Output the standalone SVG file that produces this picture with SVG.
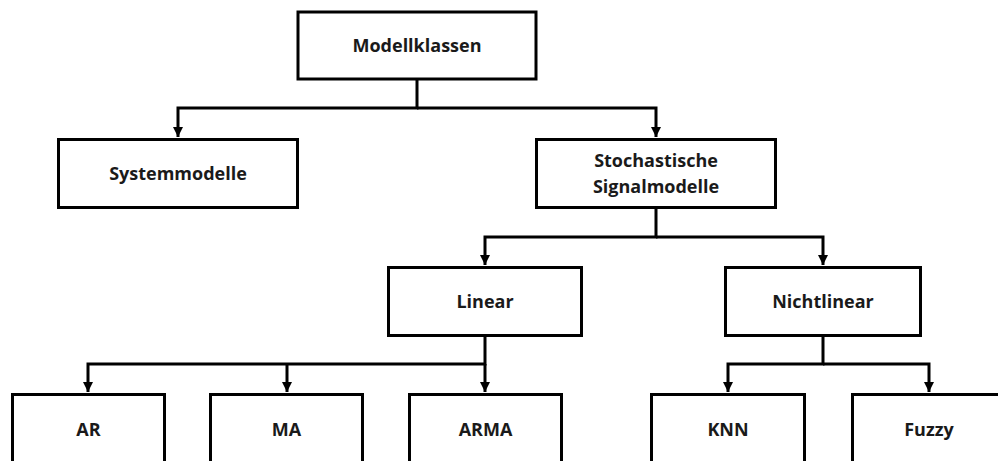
<svg xmlns="http://www.w3.org/2000/svg" width="998" height="461" viewBox="0 0 998 461">
<style>
.box{fill:#fff;stroke:#000;stroke-width:3}
.lbl{font-family:"Open Sans","Noto Sans",sans-serif;font-weight:bold;font-size:18px;fill:#1a1a1a;text-anchor:middle}
.con{fill:none;stroke:#000;stroke-width:3;stroke-linejoin:miter}
</style>
<defs>
<marker id="ah" markerUnits="userSpaceOnUse" markerWidth="10" markerHeight="10" refX="10" refY="5" orient="auto">
<path d="M0,0 L10,5 L0,10 z" fill="#000"/>
</marker>
</defs>
<rect width="998" height="461" fill="#fff"/>
<g id="connectors">
<path class="con" d="M417,80 V108 H178 V137" marker-end="url(#ah)"/>
<path class="con" d="M417,108 H656 V137" marker-end="url(#ah)"/>
<path class="con" d="M656,208 V237 H485 V265" marker-end="url(#ah)"/>
<path class="con" d="M656,237 H823 V265" marker-end="url(#ah)"/>
<path class="con" d="M485,336 V364 H88 V392" marker-end="url(#ah)"/>
<path class="con" d="M287,364 V392" marker-end="url(#ah)"/>
<path class="con" d="M485,364 V392" marker-end="url(#ah)"/>
<path class="con" d="M823,336 V364 H728 V392" marker-end="url(#ah)"/>
<path class="con" d="M823,364 H929 V392" marker-end="url(#ah)"/>
</g>
<g id="modellklassen"><rect class="box" x="298" y="12" width="238" height="67"/><text class="lbl" x="417" y="52">Modellklassen</text></g>
<g id="systemmodelle"><rect class="box" x="58.5" y="139.5" width="239" height="68"/><text class="lbl" x="178" y="180">Systemmodelle</text></g>
<g id="stochastische"><rect class="box" x="536.5" y="139.5" width="239" height="68"/><text class="lbl" x="656" y="167">Stochastische</text><text class="lbl" x="656" y="193">Signalmodelle</text></g>
<g id="linear"><rect class="box" x="388.5" y="267.5" width="193" height="68"/><text class="lbl" x="485" y="308">Linear</text></g>
<g id="nichtlinear"><rect class="box" x="725.5" y="267.5" width="195" height="68"/><text class="lbl" x="823" y="308">Nichtlinear</text></g>
<g id="ar"><rect class="box" x="12.5" y="394.5" width="152" height="80"/><text class="lbl" x="88.5" y="436">AR</text></g>
<g id="ma"><rect class="box" x="210.5" y="394.5" width="152" height="80"/><text class="lbl" x="286.5" y="436">MA</text></g>
<g id="arma"><rect class="box" x="409.5" y="394.5" width="152" height="80"/><text class="lbl" x="485.5" y="436">ARMA</text></g>
<g id="knn"><rect class="box" x="651.5" y="394.5" width="153" height="80"/><text class="lbl" x="728" y="436">KNN</text></g>
<g id="fuzzy"><rect class="box" x="852.5" y="394.5" width="153" height="80"/><text class="lbl" x="929" y="436">Fuzzy</text></g>
</svg>
